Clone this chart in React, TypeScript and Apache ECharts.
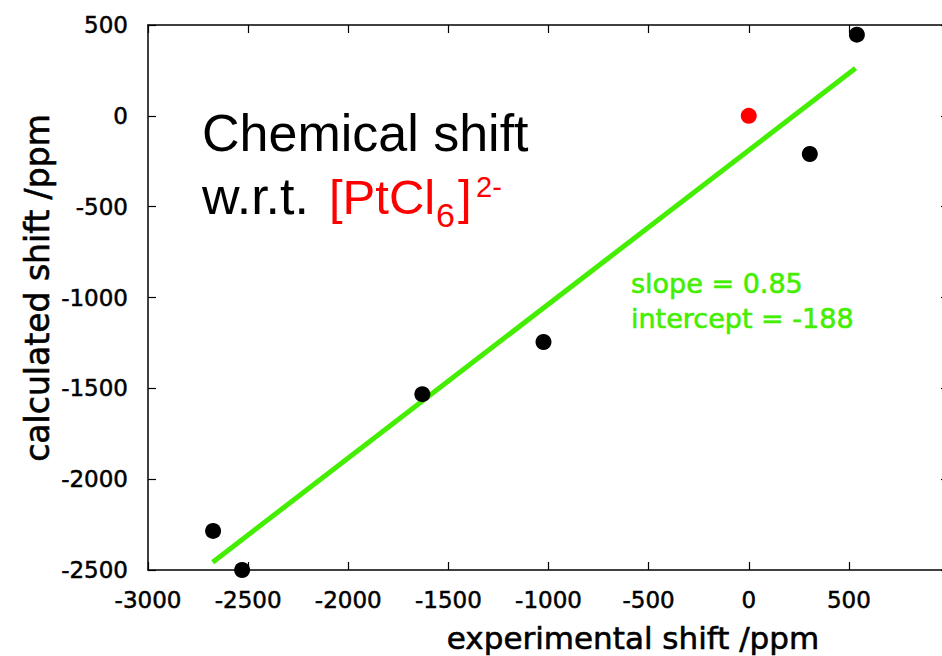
import { useEffect, useRef } from 'react';
import * as echarts from 'echarts';

const xMin = -3000;
const xMax = 1000;
const yMin = -2500;
const yMax = 500;
const tickStep = 500;

const expShift = [-2675, -2530, -1630, -1025, 305, 540];
const calcShift = [-2285, -2500, -1532, -1245, -210, 447];
const refExp = [0];
const refCalc = [0];
const fitExp = [-2677, 533];
const fitCalc = [-2457, 262];

const xTitle = 'experimental shift /ppm';
const yTitle = 'calculated shift /ppm';
const slopeText = 'slope = 0.85';
const interceptText = 'intercept = -188';

const GREEN = '#44ee00';
const AX_FONT = 'DejaVu Sans';
const MAIN_FONT = 'Liberation Sans';

export default function App() {
  const ref = useRef<HTMLDivElement>(null);
  useEffect(() => {
    if (!ref.current) return;
    const chart = echarts.init(ref.current, null, { renderer: 'svg' });
    const axisBase = {
      interval: tickStep,
      axisLine: { show: true, onZero: false, lineStyle: { color: '#000', width: 1.5 } },
      axisTick: { show: true, inside: true, length: 8, lineStyle: { color: '#000', width: 1.2 } },
      splitLine: { show: false },
    };
    const labelStyle = {
      color: '#000',
      fontSize: 23,
      fontFamily: AX_FONT,
      textBorderColor: '#000',
      textBorderWidth: 0.5,
      formatter: (v: number) => String(v),
    };
    const heavy = (color: string) => ({ stroke: color, lineWidth: 0.6 });
    chart.setOption({
      animation: false,
      grid: { left: 148, top: 25, right: 0, bottom: 86, containLabel: false },
      xAxis: [
        {
          ...axisBase,
          type: 'value',
          position: 'bottom',
          min: xMin,
          max: xMax,
          axisLabel: { ...labelStyle, margin: 18, showMaxLabel: false },
        },
        {
          ...axisBase,
          type: 'value',
          position: 'top',
          min: xMin,
          max: xMax,
          axisLabel: { show: false },
        },
      ],
      yAxis: [
        {
          ...axisBase,
          type: 'value',
          position: 'left',
          min: yMin,
          max: yMax,
          axisLabel: { ...labelStyle, margin: 20 },
        },
        {
          ...axisBase,
          type: 'value',
          position: 'right',
          min: yMin,
          max: yMax,
          axisLabel: { show: false },
        },
      ],
      series: [
        {
          type: 'line',
          data: fitExp.map((x, i) => [x, fitCalc[i]]),
          symbol: 'none',
          lineStyle: { color: GREEN, width: 5 },
          z: 2,
        },
        {
          type: 'scatter',
          data: expShift.map((x, i) => [x, calcShift[i]]),
          symbol: 'circle',
          symbolSize: 16,
          itemStyle: { color: '#000', opacity: 1 },
          clip: false,
          z: 3,
        },
        {
          type: 'scatter',
          data: refExp.map((x, i) => [x, refCalc[i]]),
          symbol: 'circle',
          symbolSize: 16,
          itemStyle: { color: '#ff0000', opacity: 1 },
          clip: false,
          z: 3,
        },
      ],
      graphic: [
        {
          type: 'text',
          x: 633,
          y: 638,
          style: { text: xTitle, fontSize: 31, fontFamily: AX_FONT, fill: '#000', ...heavy('#000'), align: 'center', verticalAlign: 'middle' },
        },
        {
          type: 'text',
          x: 37,
          y: 288,
          rotation: Math.PI / 2,
          style: { text: yTitle, fontSize: 33, fontFamily: AX_FONT, fill: '#000', ...heavy('#000'), align: 'center', verticalAlign: 'middle' },
        },
        {
          type: 'text',
          x: 202,
          y: 133,
          style: { text: 'Chemical shift', fontSize: 52, fontFamily: MAIN_FONT, fill: '#000', align: 'left', verticalAlign: 'middle' },
        },
        {
          type: 'text',
          x: 202,
          y: 196,
          style: { text: 'w.r.t.', fontSize: 52, fontFamily: MAIN_FONT, fill: '#000', align: 'left', verticalAlign: 'middle' },
        },
        {
          type: 'text',
          x: 329,
          y: 197,
          style: { text: '[PtCl', fontSize: 49, fontFamily: MAIN_FONT, fill: '#ff0000', align: 'left', verticalAlign: 'middle' },
        },
        {
          type: 'text',
          x: 436,
          y: 215,
          style: { text: '6', fontSize: 34, fontFamily: MAIN_FONT, fill: '#ff0000', align: 'left', verticalAlign: 'middle' },
        },
        {
          type: 'text',
          x: 458,
          y: 197,
          style: { text: ']', fontSize: 49, fontFamily: MAIN_FONT, fill: '#ff0000', align: 'left', verticalAlign: 'middle' },
        },
        {
          type: 'text',
          x: 476,
          y: 187,
          style: { text: '2-', fontSize: 29, fontFamily: MAIN_FONT, fill: '#ff0000', align: 'left', verticalAlign: 'middle' },
        },
        {
          type: 'text',
          x: 631,
          y: 283,
          style: { text: slopeText, fontSize: 27, fontFamily: AX_FONT, fill: GREEN, ...heavy(GREEN), align: 'left', verticalAlign: 'middle' },
        },
        {
          type: 'text',
          x: 631,
          y: 318,
          style: { text: interceptText, fontSize: 27, fontFamily: AX_FONT, fill: GREEN, ...heavy(GREEN), align: 'left', verticalAlign: 'middle' },
        },
      ],
    });
    return () => chart.dispose();
  }, []);
  return (
    <div
      ref={ref}
      style={{ position: 'fixed', left: 0, top: 0, width: 949, height: 656, background: '#fff' }}
    />
  );
}
